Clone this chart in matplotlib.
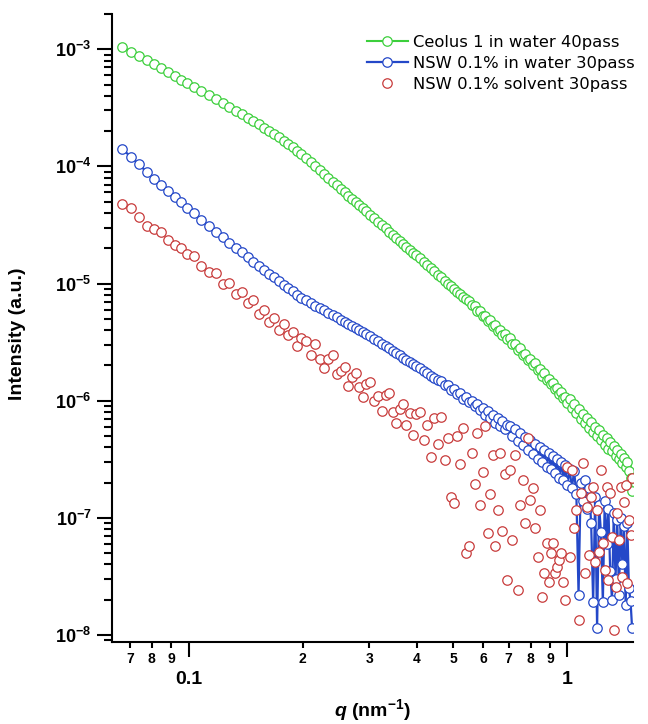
import matplotlib.pyplot as plt
import numpy as np
from matplotlib.ticker import FixedLocator, FixedFormatter, NullFormatter, LogLocator

plt.rcParams['font.family'] = 'Liberation Sans'
plt.rcParams['font.weight'] = 'bold'
plt.rcParams['mathtext.fontset'] = 'custom'
plt.rcParams['mathtext.rm'] = 'Liberation Sans'
plt.rcParams['mathtext.bf'] = 'Liberation Sans:bold'
plt.rcParams['mathtext.it'] = 'Liberation Sans:italic'
plt.rcParams['mathtext.bfit'] = 'Liberation Sans:italic:bold'

# q values (nm^-1)
q = [0.0667, 0.0703, 0.0739, 0.0775, 0.0811, 0.0847, 0.0883, 0.0919, 0.0955, 0.0991,
     0.1031, 0.1081, 0.1131, 0.1181, 0.1231, 0.1281, 0.1331, 0.1381, 0.1431, 0.1481,
     0.1531, 0.1581, 0.1631, 0.1681, 0.1731, 0.1781, 0.1831, 0.1881, 0.1931, 0.1981,
     0.2041, 0.2101, 0.2161, 0.2221, 0.2281, 0.2341, 0.2401, 0.2461, 0.2521, 0.2581,
     0.2641, 0.2701, 0.2761, 0.2821, 0.2881, 0.2941,
     0.3011, 0.3086, 0.3161, 0.3236, 0.3311, 0.3386, 0.3461, 0.3536, 0.3611, 0.3686,
     0.3761, 0.3836, 0.3911, 0.3986,
     0.4076, 0.4171, 0.4266, 0.4361, 0.4456, 0.4551, 0.4646, 0.4741, 0.4836, 0.4931,
     0.5026, 0.5121, 0.5216, 0.5311, 0.5406, 0.5501, 0.5596, 0.5691, 0.5786, 0.5881,
     0.5976, 0.6071, 0.6166, 0.6261, 0.6356, 0.6451, 0.6546, 0.6641, 0.6736, 0.6831,
     0.6926,
     0.7044, 0.7162, 0.7280, 0.7398, 0.7516, 0.7634, 0.7752, 0.7870, 0.7988, 0.8106,
     0.8224, 0.8342, 0.8460, 0.8578, 0.8696, 0.8814, 0.8932, 0.9050, 0.9168, 0.9286,
     0.9404, 0.9522, 0.9640, 0.9758, 0.9876, 0.9994,
     1.0136, 1.0278, 1.0420, 1.0562, 1.0704, 1.0846, 1.0988, 1.1130, 1.1272, 1.1414,
     1.1556, 1.1698, 1.1840, 1.1982, 1.2124, 1.2266, 1.2408, 1.2550, 1.2692, 1.2834,
     1.2976, 1.3118, 1.3260, 1.3402, 1.3544, 1.3686, 1.3828, 1.3970, 1.4112, 1.4254,
     1.4396, 1.4538, 1.4680, 1.4820]

# Ceolus 1 in water 40pass
ceolus = [1.05e-3, 9.56e-4, 8.77e-4, 8.07e-4, 7.45e-4, 6.86e-4, 6.35e-4, 5.89e-4, 5.49e-4, 5.13e-4,
          4.78e-4, 4.39e-4, 4.04e-4, 3.73e-4, 3.46e-4, 3.21e-4, 2.99e-4, 2.79e-4, 2.61e-4, 2.44e-4,
          2.29e-4, 2.14e-4, 2.01e-4, 1.89e-4, 1.77e-4, 1.66e-4, 1.55e-4, 1.45e-4, 1.36e-4, 1.28e-4,
          1.17e-4, 1.08e-4, 9.98e-5, 9.23e-5, 8.56e-5, 7.94e-5, 7.39e-5, 6.89e-5, 6.43e-5, 6.02e-5,
          5.63e-5, 5.28e-5, 4.96e-5, 4.67e-5, 4.40e-5, 4.15e-5,
          3.88e-5, 3.61e-5, 3.38e-5, 3.16e-5, 2.96e-5, 2.77e-5, 2.61e-5, 2.45e-5, 2.31e-5, 2.18e-5,
          2.06e-5, 1.94e-5, 1.84e-5, 1.74e-5,
          1.64e-5, 1.53e-5, 1.44e-5, 1.35e-5, 1.27e-5, 1.19e-5, 1.13e-5, 1.06e-5, 1.00e-5, 9.50e-6,
          9.00e-6, 8.53e-6, 8.10e-6, 7.69e-6, 7.31e-6, 7.10e-6, 6.50e-6, 6.40e-6, 5.85e-6, 5.80e-6,
          5.30e-6, 5.30e-6, 4.80e-6, 4.85e-6, 4.35e-6, 4.40e-6, 3.95e-6, 4.05e-6, 3.62e-6, 3.72e-6,
          3.35e-6,
          3.40e-6, 3.05e-6, 3.02e-6, 2.70e-6, 2.82e-6, 2.47e-6, 2.52e-6, 2.24e-6, 2.28e-6, 2.00e-6,
          2.10e-6, 1.84e-6, 1.86e-6, 1.64e-6, 1.71e-6, 1.50e-6, 1.53e-6, 1.38e-6, 1.41e-6, 1.25e-6,
          1.29e-6, 1.14e-6, 1.18e-6, 1.06e-6, 1.08e-6, 9.6e-7,
          1.03e-6, 8.6e-7, 9.3e-7, 7.8e-7, 8.5e-7, 7.0e-7, 7.7e-7, 6.4e-7, 7.1e-7, 5.9e-7,
          6.6e-7, 5.4e-7, 6.0e-7, 5.0e-7, 5.6e-7, 4.6e-7, 5.1e-7, 4.2e-7, 4.8e-7, 3.9e-7,
          4.45e-7, 3.7e-7, 4.1e-7, 3.4e-7, 3.8e-7, 3.15e-7, 3.5e-7, 2.95e-7, 3.25e-7, 2.7e-7,
          3.0e-7, 2.5e-7, 2.2e-7, 1.7e-7]

# NSW 0.1% in water 30pass
nsw_water = [1.42e-4, 1.21e-4, 1.04e-4, 8.99e-5, 7.88e-5, 6.95e-5, 6.19e-5, 5.52e-5, 4.94e-5, 4.45e-5,
             3.98e-5, 3.48e-5, 3.10e-5, 2.77e-5, 2.48e-5, 2.24e-5, 2.03e-5, 1.85e-5, 1.68e-5, 1.54e-5,
             1.41e-5, 1.31e-5, 1.21e-5, 1.13e-5, 1.05e-5, 9.79e-6, 9.16e-6, 8.58e-6, 8.04e-6, 7.58e-6,
             7.19e-6, 6.83e-6, 6.49e-6, 6.18e-6, 5.89e-6, 5.62e-6, 5.37e-6, 5.14e-6, 4.92e-6, 4.72e-6,
             4.53e-6, 4.35e-6, 4.18e-6, 4.02e-6, 3.87e-6, 3.73e-6,
             3.57e-6, 3.39e-6, 3.23e-6, 3.07e-6, 2.92e-6, 2.79e-6, 2.66e-6, 2.55e-6, 2.44e-6, 2.33e-6,
             2.24e-6, 2.15e-6, 2.06e-6, 1.98e-6,
             1.89e-6, 1.80e-6, 1.72e-6, 1.64e-6, 1.57e-6, 1.50e-6, 1.47e-6, 1.35e-6, 1.35e-6, 1.24e-6,
             1.25e-6, 1.13e-6, 1.16e-6, 1.04e-6, 1.07e-6, 9.7e-7, 1.0e-6, 9.0e-7, 9.3e-7, 8.3e-7,
             8.7e-7, 7.6e-7, 8.1e-7, 7.1e-7, 7.6e-7, 6.5e-7, 7.1e-7, 6.1e-7, 6.7e-7, 5.7e-7,
             6.2e-7,
             6.1e-7, 5.0e-7, 5.7e-7, 4.5e-7, 5.3e-7, 4.2e-7, 4.9e-7, 3.8e-7, 4.6e-7, 3.5e-7,
             4.3e-7, 3.2e-7, 4.0e-7, 3.0e-7, 3.8e-7, 2.7e-7, 3.6e-7, 2.6e-7, 3.4e-7, 2.4e-7,
             3.2e-7, 2.2e-7, 3.0e-7, 2.1e-7, 2.8e-7, 1.9e-7,
             2.6e-7, 1.8e-7, 2.5e-7, 1.6e-7, 2.2e-8, 2.0e-7, 1.4e-7, 2.1e-7, 1.2e-7, 1.8e-7,
             9.0e-8, 1.9e-8, 1.5e-7, 1.15e-8, 1.3e-7, 7.5e-8, 1.9e-8, 1.4e-7, 6.0e-8, 1.2e-7,
             3.5e-8, 2.0e-8, 1.1e-7, 3.0e-8, 9.5e-8, 2.2e-8, 1.0e-7, 4.0e-8, 8.5e-8, 1.8e-8,
             9.0e-8, 2.5e-8, 1.97e-8, 1.15e-8]

# NSW 0.1% solvent 30pass
nsw_solvent = [4.78e-5, 4.42e-5, 3.70e-5, 3.10e-5, 2.92e-5, 2.75e-5, 2.35e-5, 2.13e-5, 2.01e-5, 1.79e-5,
               1.72e-5, 1.41e-5, 1.25e-5, 1.23e-5, 9.9e-6, 1.01e-5, 8.13e-6, 8.45e-6, 6.81e-6, 7.23e-6,
               5.50e-6, 5.94e-6, 4.69e-6, 5.07e-6, 4.01e-6, 4.51e-6, 3.63e-6, 3.85e-6, 2.92e-6, 3.43e-6,
               3.22e-6, 2.45e-6, 3.03e-6, 2.26e-6, 1.90e-6, 2.26e-6, 2.45e-6, 1.68e-6, 1.79e-6, 1.95e-6,
               1.34e-6, 1.60e-6, 1.71e-6, 1.30e-6, 1.08e-6, 1.39e-6,
               1.44e-6, 9.89e-7, 1.10e-6, 8.11e-7, 1.11e-6, 1.16e-6, 8.01e-7, 6.50e-7, 8.55e-7, 9.38e-7,
               6.20e-7, 7.82e-7, 5.06e-7, 7.69e-7,
               8.02e-7, 4.59e-7, 6.17e-7, 3.30e-7, 7.06e-7, 4.27e-7, 7.29e-7, 3.13e-7, 4.76e-7, 1.52e-7,
               1.33e-7, 4.99e-7, 2.90e-7, 5.84e-7, 5.02e-8, 5.70e-8, 3.56e-7, 1.93e-7, 5.27e-7, 1.28e-7,
               2.48e-7, 6.03e-7, 7.36e-8, 1.60e-7, 3.47e-7, 5.72e-8, 1.16e-7, 3.57e-7, 7.76e-8, 2.39e-7,
               2.92e-8,
               2.55e-7, 6.46e-8, 3.43e-7, 2.42e-8, 1.28e-7, 2.10e-7, 9.02e-8, 4.80e-7, 1.42e-7, 1.80e-7,
               8.17e-8, 4.61e-8, 1.16e-7, 2.11e-8, 3.37e-8, 6.07e-8, 2.82e-8, 4.99e-8, 6.07e-8, 3.37e-8,
               3.79e-8, 4.36e-8, 4.99e-8, 2.82e-8, 1.98e-8, 2.71e-7,
               4.61e-8, 2.55e-7, 8.17e-8, 1.16e-7, 1.34e-8, 1.63e-7, 2.93e-7, 3.37e-8, 1.24e-7, 4.80e-8,
               1.50e-7, 1.83e-7, 4.19e-8, 1.16e-7, 5.09e-8, 2.55e-7, 6.07e-8, 3.57e-8, 1.83e-7, 2.94e-8,
               1.63e-7, 6.84e-8, 1.10e-8, 2.56e-8, 1.10e-7, 6.46e-8, 1.83e-7, 3.12e-8, 1.36e-7, 1.90e-7,
               2.77e-8, 9.57e-8, 7.11e-8, 2.18e-7]

labels = ["Ceolus 1 in water 40pass", "NSW 0.1% in water 30pass", "NSW 0.1% solvent 30pass"]

y_major = [1e-8, 1e-7, 1e-6, 1e-5, 1e-4, 1e-3]
y_major_labels = [r'$\mathbf{10^{-8}}$', r'$\mathbf{10^{-7}}$', r'$\mathbf{10^{-6}}$',
                  r'$\mathbf{10^{-5}}$', r'$\mathbf{10^{-4}}$', r'$\mathbf{10^{-3}}$']
x_major = [0.1, 1]
x_major_labels = ["0.1", "1"]
x_minor = [0.07, 0.08, 0.09, 0.2, 0.3, 0.4, 0.5, 0.6, 0.7, 0.8, 0.9]
x_minor_labels = ["7", "8", "9", "2", "3", "4", "5", "6", "7", "8", "9"]

fig = plt.figure(figsize=(6.48, 7.24), dpi=100)
ax = fig.add_axes([0.1733, 0.1137, 0.804, 0.867])

ax.plot(q, ceolus, '-o', color='#3ccf3c', lw=1.5, ms=6.8, mfc='white', mew=0.9, label=labels[0])
ax.plot(q, nsw_water, '-o', color='#2448c8', lw=1.6, ms=6.8, mfc='white', mew=0.9, label=labels[1])
ax.plot(q, nsw_solvent, 'o', color='#c83c3c', ms=6.8, mfc='white', mew=0.9, label=labels[2])

ax.set_xscale('log')
ax.set_yscale('log')
ax.set_xlim(0.0629, 1.493)
ax.set_ylim(8.77e-9, 2.0e-3)

# only left and bottom axis lines
ax.spines['top'].set_visible(False)
ax.spines['right'].set_visible(False)
ax.spines['left'].set_linewidth(1.5)
ax.spines['bottom'].set_linewidth(1.5)

# y ticks
ax.yaxis.set_major_locator(FixedLocator(y_major))
ax.yaxis.set_major_formatter(FixedFormatter(y_major_labels))
ax.yaxis.set_minor_locator(LogLocator(base=10.0, subs=np.arange(2, 10), numticks=20))
ax.yaxis.set_minor_formatter(NullFormatter())
ax.tick_params(axis='y', which='major', length=11, width=1.5, labelsize=13, pad=4)
ax.tick_params(axis='y', which='minor', length=5.5, width=1.5)

# x ticks
ax.xaxis.set_major_locator(FixedLocator(x_major))
ax.xaxis.set_major_formatter(FixedFormatter(x_major_labels))
ax.xaxis.set_minor_locator(FixedLocator(x_minor))
ax.xaxis.set_minor_formatter(FixedFormatter(x_minor_labels))
ax.tick_params(axis='x', which='major', length=11, width=1.5, labelsize=14, pad=10)
ax.tick_params(axis='x', which='minor', length=4.5, width=1.5, labelsize=10, pad=3)

ax.set_ylabel("Intensity (a.u.)", fontsize=14, fontweight='bold')
ax.yaxis.set_label_coords(-0.166, 0.49)
ax.set_xlabel(r'$\mathbfit{q}$ $\mathbf{(nm^{-1})}$', fontsize=14)
ax.xaxis.set_label_coords(0.5, -0.088)

ax.legend(loc='upper left', bbox_to_anchor=(0.566, 0.952), bbox_transform=fig.transFigure,
          frameon=False, borderpad=0, borderaxespad=0, handlelength=2.5, handletextpad=0.3,
          labelspacing=0.38, prop={'family': 'DejaVu Sans', 'weight': 'normal', 'size': 11.8})

plt.savefig("out.png", dpi=100)
